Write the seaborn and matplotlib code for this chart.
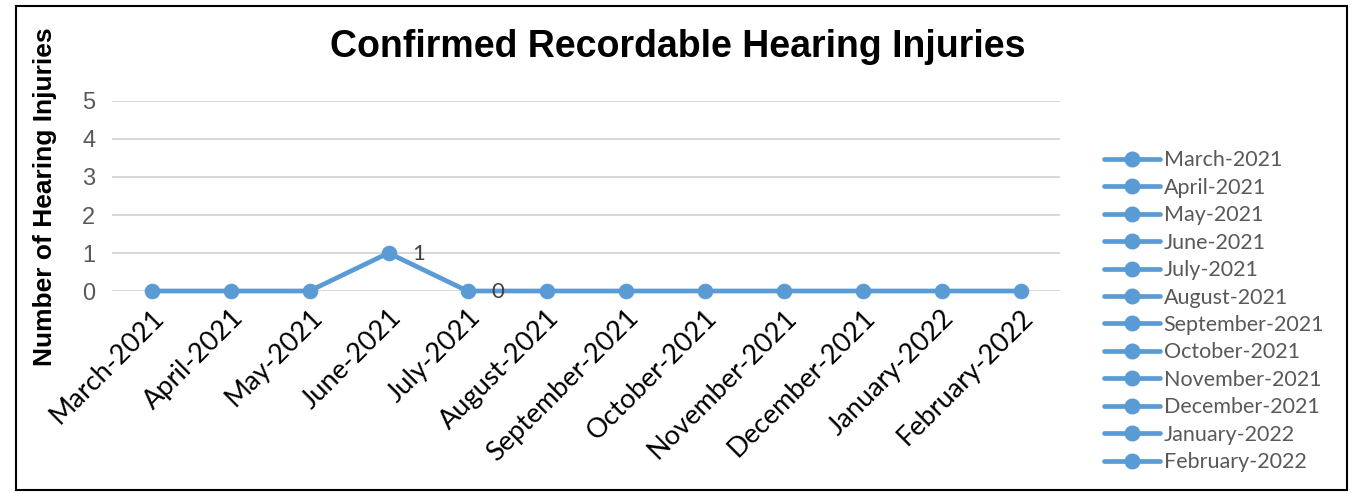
import matplotlib
matplotlib.use("Agg")
import matplotlib.pyplot as plt
from matplotlib.lines import Line2D
from matplotlib.patches import Rectangle
import pandas as pd
import seaborn as sns

months = ["March-2021", "April-2021", "May-2021", "June-2021", "July-2021",
          "August-2021", "September-2021", "October-2021", "November-2021",
          "December-2021", "January-2022", "February-2022"]
injuries = [0, 0, 0, 1, 0, 0, 0, 0, 0, 0, 0, 0]
labelled = {"June-2021": "1", "July-2021": "0"}
y_ticks = [0, 1, 2, 3, 4, 5]

BLUE = "#5B9BD5"
GREY = "#595959"
NARROW = ["Lato", "DejaVu Sans"]

sns.set_style("white")
plt.rcParams["font.family"] = ["Liberation Sans", "DejaVu Sans"]

df = pd.DataFrame({"month": months, "injuries": injuries})
df["pos"] = range(len(months))

fig = plt.figure(figsize=(13.52, 4.93), dpi=100)
ax = fig.add_axes([112 / 1352, 1 - 291 / 493, 948 / 1352, 190 / 493])

sns.lineplot(data=df, x="pos", y="injuries", ax=ax, color=BLUE,
             linewidth=3.4, marker="o", markersize=10.5,
             markeredgecolor=BLUE, clip_on=False, zorder=3)

for i, (m, v) in enumerate(zip(months, injuries)):
    if m in labelled:
        ax.text(i + 0.3, v - 0.02, labelled[m], fontsize=16, color="#404040",
                va="center", ha="left", family=NARROW)

ax.set_xlim(-0.5, len(months) - 0.5)
ax.set_ylim(0, 5)
ax.set_yticks(y_ticks)
ax.set_yticklabels([str(t) for t in y_ticks], fontsize=17, color=GREY)
ax.set_xticks(df["pos"])
ax.set_xticklabels(months, rotation=45, ha="right",
                   rotation_mode="anchor", fontsize=19.5, color="black",
                   family=NARROW)
ax.tick_params(axis="both", length=0)
ax.tick_params(axis="x", pad=10)
ax.tick_params(axis="y", pad=12)
ax.set_xlabel("")
ax.set_ylabel("")
ax.grid(axis="y", color="#D9D9D9", linewidth=1.5)
ax.set_axisbelow(True)
for s in ax.spines.values():
    s.set_visible(False)

fig.text(0.501, 1 - 47 / 493, "Confirmed Recordable Hearing Injuries",
         ha="center", va="center", fontsize=27, fontweight="bold",
         color="black")
fig.text(45 / 1352, 1 - 197 / 493, "Number of Hearing Injuries",
         rotation=90, ha="center", va="center", fontsize=19,
         fontweight="bold", color="black")

handles = [Line2D([0], [0], color=BLUE, linewidth=3.4, marker="o",
                  markersize=10.5) for _ in months]
leg = fig.legend(handles, months, loc="upper left",
                 bbox_to_anchor=(1085 / 1352, 1 - 131 / 493),
                 frameon=False, handlelength=2.6,
                 handletextpad=0.15, labelspacing=0.345,
                 prop={"family": NARROW, "size": 15.5})
for t in leg.get_texts():
    t.set_color(GREY)

fig.patches.append(Rectangle((16 / 1352, 1 - 490 / 493), 1331 / 1352,
                             484 / 493, transform=fig.transFigure,
                             fill=False, edgecolor="black", linewidth=1.5))

fig.savefig("out.png", dpi=100)
